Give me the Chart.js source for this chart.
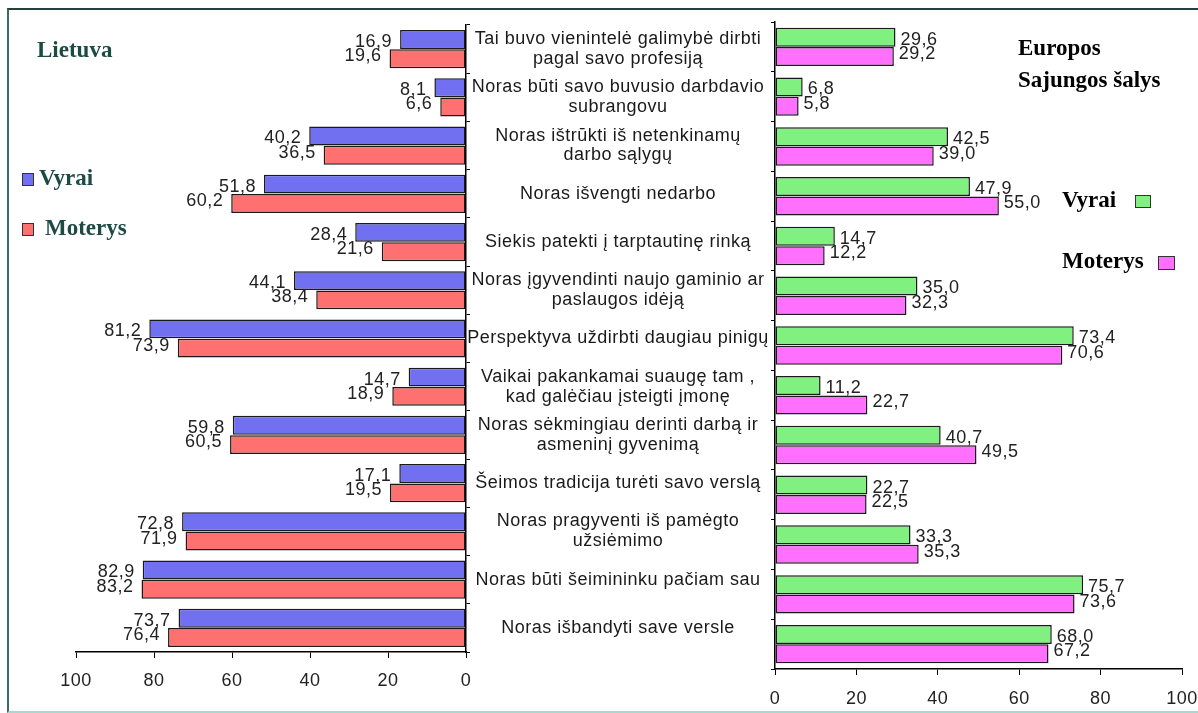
<!DOCTYPE html>
<html>
<head>
<meta charset="utf-8">
<script src="https://cdn.jsdelivr.net/npm/chart.js@4.4.1/dist/chart.umd.min.js"></script>
<style>
    html, body { margin: 0; padding: 0; background: #fff; }
    #wrap { position: relative; width: 1198px; height: 713px; overflow: hidden; }
    #frame {
        position: absolute; left: 7px; top: 8px; width: 1195px; height: 701px;
        border-top: 2px solid #24403c; border-left: 2px solid #3d6a64; border-bottom: 2px solid #a9d8d1;
    }
    canvas { position: absolute; top: 0; }
    #leftChart { left: 0; }
    #rightChart { left: 770px; }
    .txt { position: absolute; font-family: "Liberation Serif", "DejaVu Serif", serif; font-weight: bold; font-size: 23px; white-space: nowrap; line-height: 1; }
    .teal { color: #1c4a44; }
    .box { position: absolute; width: 10px; height: 11px; border: 1px solid #333; }
</style>
</head>
<body>
<div id="wrap">
    <div id="frame"></div>
    <canvas id="leftChart" width="770" height="713"></canvas>
    <canvas id="rightChart" width="428" height="713"></canvas>

    <div class="txt teal" style="left:37px; top:38px;">Lietuva</div>
    <div class="box" style="left:22px; top:173px; background:#7070f0;"></div>
    <div class="txt teal" style="left:39px; top:166px;">Vyrai</div>
    <div class="box" style="left:22px; top:223px; background:#ff7070;"></div>
    <div class="txt teal" style="left:45px; top:216px;">Moterys</div>

    <div class="txt" style="left:1018px; top:36px;">Europos</div>
    <div class="txt" style="left:1018px; top:68px;">Sajungos šalys</div>
    <div class="txt" style="left:1062px; top:188px;">Vyrai</div>
    <div class="box" style="left:1135px; top:195px; width:14px; height:11px; background:#80f080;"></div>
    <div class="txt" style="left:1062px; top:249px;">Moterys</div>
    <div class="box" style="left:1158px; top:256px; width:15px; height:12px; background:#ff70ff;"></div>
</div>

<script>
// Reasons for starting a business, % of respondents
const reasons = [
    ['Tai buvo vienintelė galimybė dirbti', 'pagal savo profesiją'],
    ['Noras būti savo buvusio darbdavio', 'subrangovu'],
    ['Noras ištrūkti iš netenkinamų', 'darbo sąlygų'],
    'Noras išvengti nedarbo',
    'Siekis patekti į tarptautinę rinką',
    ['Noras įgyvendinti naujo gaminio ar', 'paslaugos idėją'],
    'Perspektyva uždirbti daugiau pinigų',
    ['Vaikai pakankamai suaugę tam ,', 'kad galėčiau įsteigti įmonę'],
    ['Noras sėkmingiau derinti darbą ir', 'asmeninį gyvenimą'],
    'Šeimos tradicija turėti savo verslą',
    ['Noras pragyventi iš pamėgto', 'užsiėmimo'],
    'Noras būti šeimininku pačiam sau',
    'Noras išbandyti save versle'
];

// Lietuva
const ltMen   = [16.9, 8.1, 40.2, 51.8, 28.4, 44.1, 81.2, 14.7, 59.8, 17.1, 72.8, 82.9, 73.7];
const ltWomen = [19.6, 6.6, 36.5, 60.2, 21.6, 38.4, 73.9, 18.9, 60.5, 19.5, 71.9, 83.2, 76.4];

// Europos Sąjungos šalys
const euMen   = [29.6, 6.8, 42.5, 47.9, 14.7, 35.0, 73.4, 11.2, 40.7, 22.7, 33.3, 75.7, 68.0];
const euWomen = [29.2, 5.8, 39.0, 55.0, 12.2, 32.3, 70.6, 22.7, 49.5, 22.5, 35.3, 73.6, 67.2];

const axisTicks = [0, 20, 40, 60, 80, 100];

const FONT = '"Liberation Sans", Arial, sans-serif';
const fmt = v => v.toFixed(1).replace('.', ',');

// slightly wider letter spacing for all canvas text
const spacing = {
    id: 'spacing',
    beforeDraw(chart) { chart.ctx.letterSpacing = '0.5px'; }
};

// value labels next to the end of each bar
function valueLabels(side) {
    return {
        id: 'valueLabels',
        afterDatasetsDraw(chart) {
            const ctx = chart.ctx;
            ctx.save();
            ctx.font = '18px ' + FONT;
            ctx.fillStyle = '#222';
            ctx.textBaseline = 'middle';
            chart.data.datasets.forEach((ds, di) => {
                const meta = chart.getDatasetMeta(di);
                const shift = di === 0 ? 2.5 : -2.5;
                meta.data.forEach((bar, i) => {
                    const txt = fmt(ds.data[i]);
                    if (side === 'left') {
                        ctx.textAlign = 'right';
                        ctx.fillText(txt, bar.x - 8, bar.y + shift);
                    } else {
                        ctx.textAlign = 'left';
                        ctx.fillText(txt, bar.x + 5, bar.y + shift);
                    }
                });
            });
            ctx.restore();
        }
    };
}

function barSet(label, data, color, catPct) {
    return {
        label: label,
        data: data,
        backgroundColor: color,
        borderColor: '#1a1a1a',
        borderWidth: 1.5,
        borderSkipped: false,
        categoryPercentage: catPct,
        barPercentage: 0.98
    };
}

function xAxis(reverse, pad, height) {
    return {
        type: 'linear',
        position: 'bottom',
        reverse: reverse,
        min: 0,
        max: 100,
        afterBuildTicks: s => { s.ticks = axisTicks.map(v => ({ value: v })); },
        afterFit: s => {
            s.height = height;
            s.paddingLeft = 0;
            s.paddingRight = 0;
        },
        grid: { drawOnChartArea: false, drawTicks: true, tickLength: 6, color: '#000' },
        border: { color: '#000', width: 1.5 },
        ticks: { color: '#222', padding: pad, font: { size: 18, family: FONT } }
    };
}

// center column width for the shared category labels
const measure = document.createElement('canvas').getContext('2d');
measure.font = '18px ' + FONT;
let widest = 0;
reasons.flat().forEach(t => { widest = Math.max(widest, measure.measureText(t).width); });
const labelPad = Math.max(0, 152 - widest / 2 - 4);

new Chart(document.getElementById('leftChart'), {
    type: 'bar',
    data: {
        labels: reasons,
        datasets: [
            barSet('Vyrai', ltMen, '#7070f0', 0.8),
            barSet('Moterys', ltWomen, '#ff7070', 0.8)
        ]
    },
    options: {
        indexAxis: 'y',
        responsive: false,
        animation: false,
        devicePixelRatio: 1,
        layout: { autoPadding: false, padding: { left: 76, top: 25, right: 0, bottom: 0 } },
        plugins: { legend: { display: false }, tooltip: { enabled: false } },
        scales: {
            x: xAxis(true, 12, 61),
            y: {
                position: 'right',
                grid: { drawOnChartArea: false, tickLength: 4, color: '#000' },
                border: { color: '#000', width: 1.5 },
                ticks: {
                    crossAlign: 'center',
                    padding: labelPad,
                    color: '#1a1a1a',
                    font: { size: 18, family: FONT, lineHeight: 1.1 }
                },
                afterFit: s => { s.width = 304; }
            }
        }
    },
    plugins: [spacing, valueLabels('left')]
});

new Chart(document.getElementById('rightChart'), {
    type: 'bar',
    data: {
        labels: reasons,
        datasets: [
            barSet('Vyrai', euMen, '#80f080', 0.78),
            barSet('Moterys', euWomen, '#ff70ff', 0.78)
        ]
    },
    options: {
        indexAxis: 'y',
        responsive: false,
        animation: false,
        devicePixelRatio: 1,
        layout: { autoPadding: false, padding: { left: 0, top: 22, right: 16, bottom: 0 } },
        plugins: { legend: { display: false }, tooltip: { enabled: false } },
        scales: {
            x: xAxis(false, 13, 44),
            y: {
                position: 'left',
                grid: { drawOnChartArea: false, tickLength: 4, color: '#000' },
                border: { color: '#000', width: 1.5 },
                ticks: { display: false },
                afterFit: s => { s.width = 5; }
            }
        }
    },
    plugins: [spacing, valueLabels('right')]
});
</script>
</body>
</html>
